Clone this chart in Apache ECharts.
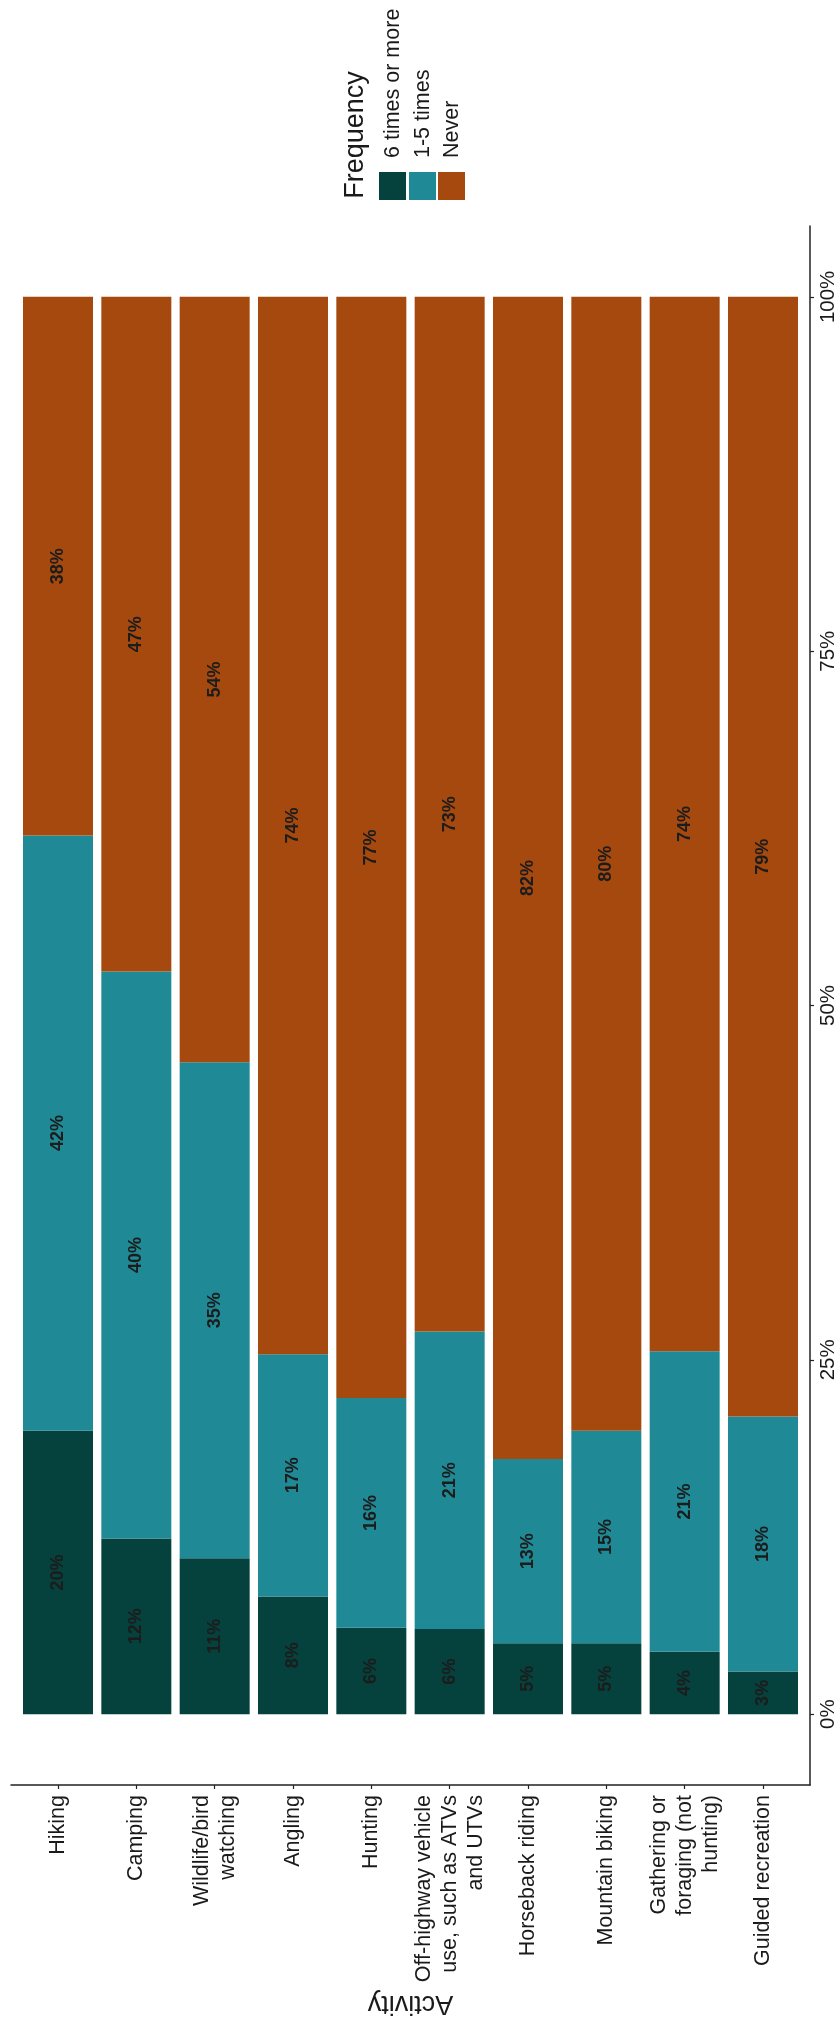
<!DOCTYPE html>
<html>
<head>
<meta charset="utf-8">
<script src="https://cdn.jsdelivr.net/npm/echarts@6/dist/echarts.min.js"></script>
<style>
  html, body { margin: 0; padding: 0; background: #ffffff; }
  #chart { width: 840px; height: 2028px; }
</style>
</head>
<body>
<div id="chart"></div>
<script>
// ---- data ----
const categories = [
  'Hiking', 'Camping', 'Wildlife/bird\nwatching', 'Angling', 'Hunting',
  'Off-highway vehicle\nuse, such as ATVs\nand UTVs', 'Horseback riding',
  'Mountain biking', 'Gathering or\nforaging (not\nhunting)', 'Guided recreation'
];
const seriesNames = ['6 times or more', '1-5 times', 'Never'];
// bar lengths (share of respondents, %)
const sixPlus   = [20, 12.4, 11, 8.3, 6.1, 6, 5, 5, 4.4, 3];
const oneToFive = [42, 40, 35, 17.1, 16.2, 21, 13, 15, 21.2, 18];
const never     = [38, 47.6, 54, 74.6, 77.7, 73, 82, 80, 74.4, 79];
// printed labels
const sixPlusLabels   = [20, 12, 11, 8, 6, 6, 5, 5, 4, 3];
const oneToFiveLabels = [42, 40, 35, 17, 16, 21, 13, 15, 21, 18];
const neverLabels     = [38, 47, 54, 74, 77, 73, 82, 80, 74, 79];
const valueTicks = [0, 25, 50, 75, 100];
const categoryPositions = [1, 2, 3, 4, 5, 6, 7, 8, 9, 10];

// ---- styles ----
const colors = ['#05413d', '#1f8995', '#a6490e'];
const FONT = "'Liberation Sans', Arial, sans-serif";
const INK = '#1a1a1a';

const chart = echarts.init(document.getElementById('chart'), null, { renderer: 'canvas' });

function makeSeries(idx, values, labels) {
  return {
    name: seriesNames[idx],
    type: 'bar',
    stack: 'total',
    barWidth: 70,
    encode: { x: 1, y: 0 },
    itemStyle: { color: colors[idx] },
    label: {
      show: true,
      position: 'inside',
      rotate: 90,
      fontFamily: FONT,
      fontSize: 18,
      fontWeight: 'bold',
      color: '#1c1c1c',
      formatter: p => labels[p.dataIndex] + '%'
    },
    // [value, category position]
    data: categoryPositions.map((x, i) => [values[i], x])
  };
}

// legend drawn as graphics (rotated, like the reference)
const legendGraphics = [
  {
    type: 'text', x: 356, y: 135, rotation: Math.PI / 2,
    style: { text: 'Frequency', fontSize: 27, fontFamily: FONT, fill: INK,
             align: 'center', verticalAlign: 'middle', textAlign: 'center', textVerticalAlign: 'middle' }
  }
];
const swatchX = [379, 409, 438];
seriesNames.forEach((n, i) => {
  legendGraphics.push({
    type: 'rect', shape: { x: swatchX[i], y: 172, width: 27, height: 28 },
    style: { fill: colors[i] }
  });
  legendGraphics.push({
    type: 'text', x: swatchX[i] + 14, y: 158, rotation: Math.PI / 2,
    style: { text: n, fontSize: 21.5, fontFamily: FONT, fill: INK,
             align: 'left', verticalAlign: 'middle', textAlign: 'left', textVerticalAlign: 'middle' }
  });
});

chart.setOption({
  animation: false,
  backgroundColor: '#ffffff',
  grid: { left: 11, right: 30, top: 226, bottom: 243, containLabel: false },
  xAxis: {
    type: 'value',
    min: 0.4,
    max: 10.6,
    position: 'bottom',
    name: 'Activity',
    nameLocation: 'middle',
    nameRotate: 180,
    nameGap: 218,
    nameTextStyle: { fontSize: 27, fontFamily: FONT, color: INK, align: 'center', verticalAlign: 'middle' },
    axisLine: { show: true, onZero: false, lineStyle: { color: '#222', width: 1.5 } },
    axisTick: { show: true, length: 4, lineStyle: { color: '#222', width: 1.2 }, customValues: categoryPositions },
    axisLabel: {
      show: true,
      customValues: categoryPositions,
      formatter: v => categories[Math.round(v) - 1] || '',
      rotate: 90,
      margin: 10,
      fontSize: 21.5,
      lineHeight: 26,
      fontFamily: FONT,
      color: INK
    },
    splitLine: { show: false }
  },
  yAxis: {
    type: 'value',
    position: 'right',
    min: -5,
    max: 105,
    axisLine: { show: true, onZero: false, lineStyle: { color: '#222', width: 1.5 } },
    axisTick: { show: true, length: 4, lineStyle: { color: '#222', width: 1.2 }, customValues: valueTicks },
    axisLabel: {
      show: true,
      customValues: valueTicks,
      formatter: v => v + '%',
      rotate: 90,
      margin: 8,
      fontSize: 20.5,
      fontFamily: FONT,
      color: INK
    },
    splitLine: { show: false }
  },
  graphic: legendGraphics,
  series: [
    makeSeries(0, sixPlus, sixPlusLabels),
    makeSeries(1, oneToFive, oneToFiveLabels),
    makeSeries(2, never, neverLabels)
  ]
});
</script>
</body>
</html>
